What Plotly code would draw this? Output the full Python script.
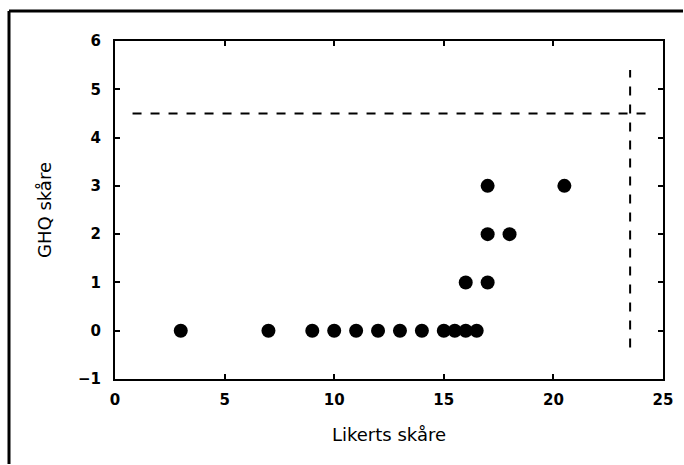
import plotly.graph_objects as go

# Data
likert = [3, 7, 9, 10, 11, 12, 13, 14, 15, 15.5, 16, 16.5, 16, 17, 17, 18, 17, 20.5]
ghq    = [0, 0, 0, 0, 0, 0, 0, 0, 0, 0, 0, 0, 1, 1, 2, 2, 3, 3]

hline_x = [0.8, 24.6]
hline_y = [4.5, 4.5]
vline_x = [23.5, 23.5]
vline_y = [-0.35, 5.4]

x_ticks = [0, 5, 10, 15, 20, 25]
y_ticks = [-1, 0, 1, 2, 3, 4, 5, 6]

W, H = 684, 465
L, R, T, B = 115, 21, 41, 86

fig = go.Figure()
dash = "9px,9px"
fig.add_trace(go.Scatter(x=hline_x, y=hline_y, mode="lines",
                         line=dict(color="black", width=2, dash=dash), hoverinfo="skip"))
fig.add_trace(go.Scatter(x=vline_x, y=vline_y, mode="lines",
                         line=dict(color="black", width=2, dash=dash), hoverinfo="skip"))
fig.add_trace(go.Scatter(x=likert, y=ghq, mode="markers",
                         marker=dict(color="black", size=14, line=dict(width=0))))

axis_common = dict(
    showgrid=False, zeroline=False, showline=True, linecolor="black", linewidth=2,
    mirror="allticks", ticks="inside", ticklen=5, tickwidth=1.5, tickcolor="black",
    tickfont=dict(family="DejaVu Sans", size=15, color="black", weight="bold"),
)
fig.update_xaxes(range=[0, 25], tickvals=x_ticks, ticklabelstandoff=6,
                 title=dict(text="Likerts skåre", standoff=20,
                            font=dict(family="DejaVu Sans", size=18, color="#000000")),
                 **axis_common)
fig.update_yaxes(range=[-1, 6], tickvals=y_ticks, ticklabelstandoff=9,
                 title=dict(text="GHQ skåre", standoff=22,
                            font=dict(family="DejaVu Sans", size=18, color="#000000")),
                 **axis_common)

pw, ph = W - L - R, H - T - B
bx = (9 - L) / pw
by = 1 + (T - 11) / ph
fig.add_shape(type="line", xref="paper", yref="paper", x0=bx, x1=1 + (R - 1) / pw,
              y0=by, y1=by, line=dict(color="black", width=3))
fig.add_shape(type="line", xref="paper", yref="paper", x0=bx, x1=bx,
              y0=by, y1=-(B - 1) / ph, line=dict(color="black", width=3))

fig.update_layout(width=W, height=H, margin=dict(l=L, r=R, t=T, b=B),
                  plot_bgcolor="white", paper_bgcolor="white", showlegend=False)

fig.write_html("out.html")
